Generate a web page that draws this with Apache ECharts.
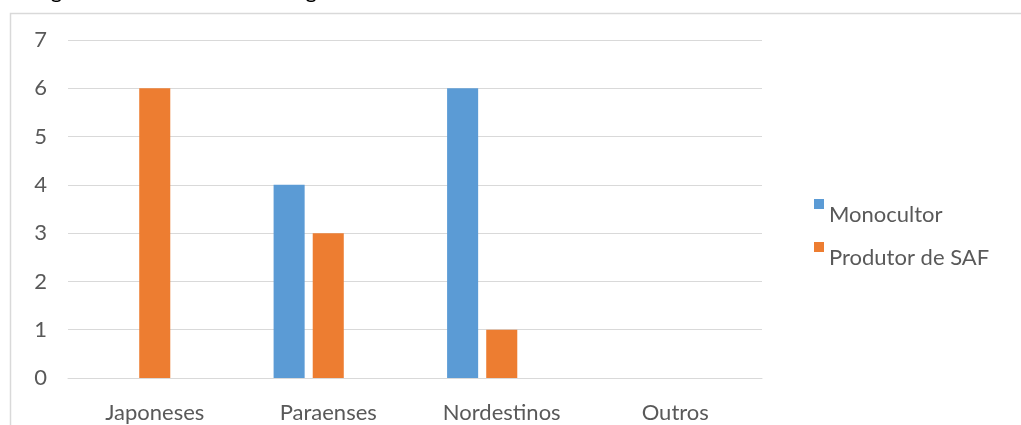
<!DOCTYPE html>
<html>
<head>
<meta charset="utf-8">
<script src="https://cdn.jsdelivr.net/npm/echarts@6/dist/echarts.min.js"></script>
<style>
html,body{margin:0;padding:0;background:#fff;}
#c{width:1021px;height:425px;}
</style>
</head>
<body>
<div id="c"></div>
<script>
const titleText = "Figura 4 - Procedência dos agricultores";
const categories = ["Japoneses", "Paraenses", "Nordestinos", "Outros"];
const monocultor = [0, 4, 6, 0];
const produtorSAF = [6, 3, 1, 0];
const terceiraSerie = [0, 0, 0, 0];
const seriesNames = ["Monocultor", "Produtor de SAF"];

const font = "Lato, 'Open Sans', sans-serif";
const txt = "#595959";
const chart = echarts.init(document.getElementById('c'), null, {renderer: 'canvas'});
chart.setOption({
  animation: false,
  backgroundColor: '#fff',
  title: {
    text: titleText, left: 28, top: -25,
    textStyle: {fontFamily: font, fontSize: 22, fontWeight: 'normal', color: '#000'}
  },
  graphic: [{
    type: 'rect', z: -1,
    shape: {x: 10.5, y: 13.5, width: 1030, height: 500},
    style: {fill: 'none', stroke: '#d9d9d9', lineWidth: 1.5}
  }],
  legend: {
    data: seriesNames, orient: 'vertical', left: 809, top: 194,
    itemWidth: 10, itemHeight: 32, itemGap: 11,
    icon: 'path://M0,0h10v10h-10z M0,32h0.01v0.01h-0.01z',
    textStyle: {fontFamily: font, fontSize: 22, color: txt}
  },
  grid: {left: 68, right: 259, top: 40, bottom: 47, containLabel: false},
  xAxis: {
    type: 'category', data: categories,
    axisLine: {lineStyle: {color: '#d9d9d9', width: 1}},
    axisTick: {show: false},
    axisLabel: {fontFamily: font, fontSize: 22, color: txt, margin: 24}
  },
  yAxis: {
    type: 'value', min: 0, max: 7, interval: 1,
    axisLine: {show: false}, axisTick: {show: false},
    splitLine: {lineStyle: {color: '#d9d9d9', width: 1}},
    axisLabel: {fontFamily: font, fontSize: 22, color: txt, margin: 21}
  },
  series: [
    {name: seriesNames[0], type: 'bar', data: monocultor, itemStyle: {color: '#5b9bd5'}, barGap: '26%', barCategoryGap: '37%'},
    {name: seriesNames[1], type: 'bar', data: produtorSAF, itemStyle: {color: '#ed7d31'}},
    {name: 'vazio', type: 'bar', data: terceiraSerie, itemStyle: {color: '#a5a5a5'}}
  ]
});
</script>
</body>
</html>
